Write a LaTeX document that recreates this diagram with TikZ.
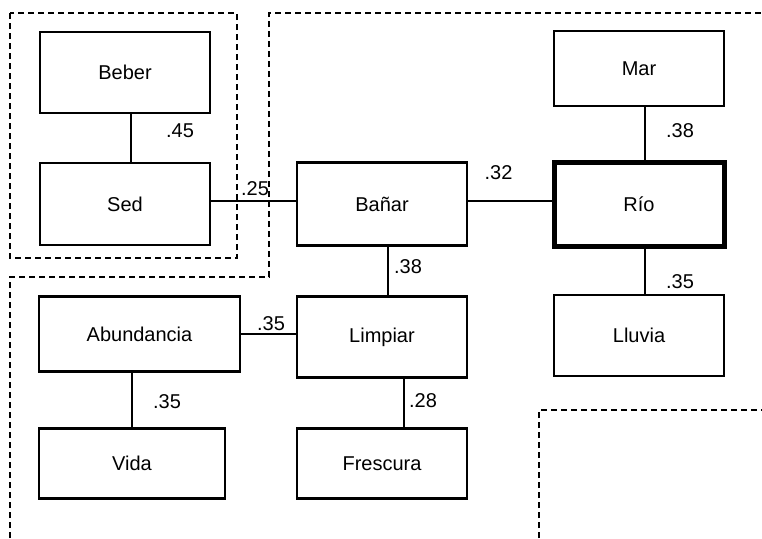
\documentclass[tikz,border=0pt]{standalone}
\usepackage{fontspec}
\setmainfont{Liberation Sans}
\usetikzlibrary{positioning}

\begin{document}
\begin{tikzpicture}[x=1pt,y=-1pt]
    \tikzset{block/.style= {draw, rectangle, align=center,minimum width=170pt,minimum height=81pt, inner sep=0pt, outer sep=0pt, line width=2.4pt, font=\fontsize{20}{24}\selectfont},
    mblock/.style={block, line width=5pt},
    lbl/.style={inner sep=0pt, font=\fontsize{20}{24}\selectfont},
    region/.style={draw, dash pattern=on 6pt off 4pt, line width=1.5pt},
    }
    \useasboundingbox (0,0) rectangle (762,538);
    \node [block] (beber) at (125,72.5) {Beber};
    \node [block, minimum height=82pt, below =50pt of beber] (sed) {Sed};
    \node [block, minimum height=83pt, right =87pt of sed] (banar) {Bañar};
    \node [mblock, minimum height=84pt, right =87pt of banar] (rio) {Río};
    \node [block, minimum height=75pt, above =56pt of rio] (mar) {Mar};
    \node [block, below =51pt of banar] (limpiar) {Limpiar};
    \node [block, below =49pt of rio] (lluvia) {Lluvia};
    \node [block, minimum width=201pt, minimum height=75pt, below left =0pt and 57pt of limpiar.north west] (abund) {Abundancia};
    \node [block, minimum width=186pt, minimum height=70pt, below right =57pt and 0pt of abund.south west] (vida) {Vida};
    \node [block, minimum height=70pt, below =51pt of limpiar] (frescura) {Frescura};
    %% dashed regions
    \draw[region] (10,13) rectangle (237,258);
    \draw[region] (10,538) -- (10,277) -- (269,277) -- (269,13) -- (762,13);
    \draw[region] (539,538) -- (539,410) -- (762,410);

% paths
    \path[draw, line width=1.6pt, every node/.style={lbl}]
                ([xshift=6pt]beber.south) edge node[xshift=49pt, yshift=7pt] {.45} ([xshift=6pt]sed.north)
                ([yshift=3pt]sed.east) edge node[xshift=1.5pt, yshift=12pt] {.25} ([yshift=3pt]banar.west)
                ([yshift=3pt]banar.east) edge node[xshift=-12pt, yshift=28pt] {.32} ([yshift=3pt]rio.west)
                ([xshift=6pt]mar.south) edge node[xshift=35pt, yshift=3pt] {.38} ([xshift=6pt]rio.north)
                ([xshift=6pt]rio.south) edge node[xshift=35pt, yshift=-11.5pt] {.35} ([xshift=6pt]lluvia.north)
                ([xshift=6pt]banar.south) edge node[xshift=20pt, yshift=4.5pt] {.38} ([xshift=6pt]limpiar.north)
                (abund.east) edge node[xshift=2.5pt, yshift=10pt] {.35} (abund.east -| limpiar.west)
                (vida.north |- abund.south) edge node[xshift=35pt, yshift=-1.5pt] {.35} (vida.north)
                ([xshift=22pt]limpiar.south) edge node[xshift=19pt, yshift=2.5pt] {.28} ([xshift=22pt]frescura.north)
                ;
\end{tikzpicture}
\end{document}
